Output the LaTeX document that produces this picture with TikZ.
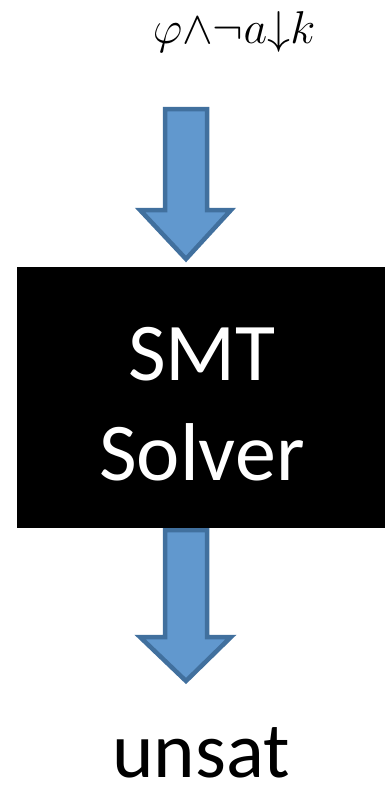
\RequirePackage{fix-cm}
\documentclass[tikz,border=0pt]{standalone}
\usepackage{fontspec}
\newfontfamily\calib{Carlito}
\definecolor{arrfill}{RGB}{97,152,206}
\definecolor{arredge}{RGB}{65,112,158}
\begin{document}
\begin{tikzpicture}[x=1pt,y=-1pt,
  bigarrow/.style={fill=arrfill,draw=arredge,line width=4.5pt,line join=miter},
  solverbox/.style={fill=black,draw=none},
  boxtext/.style={text=white,font=\calib\fontsize{82}{100}\selectfont,align=center,inner sep=0pt},
  outtext/.style={font=\calib\fontsize{79}{95}\selectfont,inner sep=0pt,anchor=base},
  intext/.style={font=\fontsize{46}{50}\selectfont,inner sep=0pt,anchor=base}]
\useasboundingbox (0,0) rectangle (385,790);
% input formula
\node[intext] (in) at (234,43) {$\varphi{\wedge}{\neg}a{\downarrow}k$};
% arrows
\draw[bigarrow] (165,109) -- (207,109) -- (207,210) -- (231,210) -- (186,259) -- (140,210) -- (165,210) -- cycle;
\draw[bigarrow] (165,530) -- (207,530) -- (207,637) -- (231,637) -- (186,681) -- (140,637) -- (165,637) -- cycle;
% box
\fill[solverbox] (17,267) rectangle (386,528);
\node[boxtext,anchor=base] (smt) at (202,380) {SMT};
\node[boxtext,anchor=base] (solver) at (202,480) {Solver};
% output
\node[outtext] (out) at (201,777) {unsat};
\end{tikzpicture}
\end{document}
